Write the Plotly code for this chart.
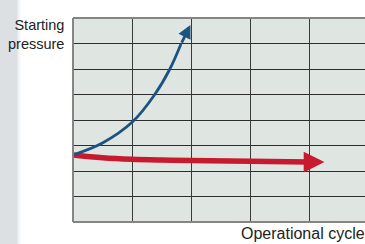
import plotly.graph_objects as go

# Data (grid units: columns along x, rows along y)
red_x = [0, 0.5, 1.0, 1.5, 2.0, 3.0, 4.0, 4.26]
red_y = [2.63, 2.52, 2.46, 2.43, 2.41, 2.38, 2.35, 2.35]

blue_x = [0, 0.5, 1.01, 1.38, 1.64, 1.83, 1.99]
blue_y = [2.63, 3.10, 3.93, 4.98, 5.99, 6.98, 7.73]

y_label = "Starting<br>pressure"
x_label = "Operational cycle"

RED = "#c81a2f"
BLUE = "#1b5482"
BORDER = "#858585"

W, H = 365, 244
L, T, B = 73, 18, 22
PW = W - L
PH = H - T - B
COL = 59.0

fig = go.Figure()
fig.add_trace(go.Scatter(x=red_x[:-1], y=red_y[:-1], mode="lines",
                         line=dict(color=RED, width=5.5, shape="spline"),
                         hoverinfo="skip"))
fig.add_trace(go.Scatter(x=blue_x[:-1], y=blue_y[:-1], mode="lines",
                         line=dict(color=BLUE, width=2.8, shape="spline"),
                         hoverinfo="skip"))

# arrowheads at series ends
fig.add_annotation(x=red_x[-1], y=red_y[-1], ax=red_x[-2], ay=red_y[-2],
                   xref="x", yref="y", axref="x", ayref="y", text="",
                   showarrow=True, arrowhead=2, arrowwidth=5.5, arrowsize=0.75,
                   arrowcolor=RED, standoff=0)
fig.add_annotation(x=blue_x[-1], y=blue_y[-1], ax=blue_x[-2], ay=blue_y[-2],
                   xref="x", yref="y", axref="x", ayref="y", text="",
                   showarrow=True, arrowhead=2, arrowwidth=2.8, arrowsize=0.95,
                   arrowcolor=BLUE, standoff=0)

def px2paper_x(px):
    return (px - L) / PW

# left grey strip with soft shadow
fig.add_shape(type="rect", xref="paper", yref="paper",
              x0=px2paper_x(0), x1=px2paper_x(17), y0=-B / PH - 0.01, y1=1 + T / PH + 0.01,
              fillcolor="#dde0e2", line_width=0, layer="below")
for i, c in enumerate(["#e6e8e9", "#eff0f1", "#f6f7f7", "#fbfbfb"]):
    fig.add_shape(type="rect", xref="paper", yref="paper",
                  x0=px2paper_x(17 + i), x1=px2paper_x(18 + i),
                  y0=-B / PH - 0.01, y1=1 + T / PH + 0.01,
                  fillcolor=c, line_width=0, layer="below")

# plot frame (left, top, bottom) in lighter grey
for (x0, y0, x1, y1) in [(0, 0, 0, 1), (0, 1, 1, 1), (0, 0, 1, 0)]:
    fig.add_shape(type="line", xref="paper", yref="paper", x0=x0, y0=y0, x1=x1, y1=y1,
                  line=dict(color=BORDER, width=2), layer="above")

fig.add_annotation(text=y_label, xref="paper", yref="paper",
                   x=px2paper_x(65.5), y=1 + 3 / PH, xanchor="right", yanchor="top",
                   align="right", showarrow=False,
                   font=dict(family="Liberation Sans Narrow, Liberation Sans, Arial", size=14.5, color="#222"))
fig.add_annotation(text=x_label, xref="paper", yref="paper",
                   x=px2paper_x(238.5), y=-B / PH, xanchor="left", yanchor="bottom",
                   align="left", showarrow=False,
                   font=dict(family="Liberation Sans, Arial", size=16, color="#222"))

fig.update_xaxes(range=[0, PW / COL], dtick=1, showgrid=True, gridcolor="#3a3a3a",
                 gridwidth=1.3, zeroline=False, showticklabels=False, ticks="",
                 showline=False)
fig.update_yaxes(range=[0, 8], dtick=1, showgrid=True, gridcolor="#2e2e2e",
                 gridwidth=1.3, zeroline=False, showticklabels=False, ticks="",
                 showline=False)

fig.update_layout(width=W, height=H, margin=dict(l=L, r=0, t=T, b=B),
                  paper_bgcolor="white", plot_bgcolor="#dfe5e1",
                  showlegend=False)

fig.write_html("out.html", config={"displayModeBar": False},
               post_script="document.body.style.margin='0';document.body.style.overflow='hidden';")
